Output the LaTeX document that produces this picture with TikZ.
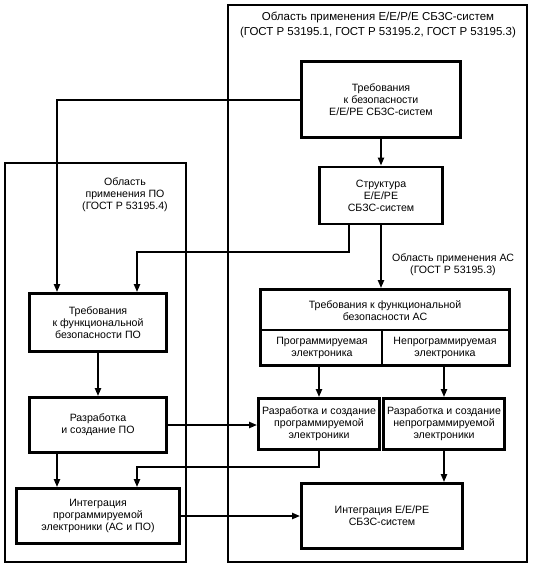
\documentclass[tikz,border=0pt]{standalone}
\usepackage{fontspec}
\setmainfont{Liberation Sans}
\usetikzlibrary{arrows.meta}
\tikzset{
  box/.style={draw, line width=2.8pt, inner sep=0pt, align=center, font=\fontsize{10.6}{12}\selectfont},
  area/.style={draw, line width=1.4pt},
  txt/.style={inner sep=0pt, align=center, font=\fontsize{10.6}{12}\selectfont},
  conn/.style={line width=2pt, -{Triangle[length=8pt,width=6pt]}},
  divider/.style={line width=2pt}
}
\begin{document}
\begin{tikzpicture}[x=1pt,y=-1pt]
\useasboundingbox (0,0) rectangle (533,566);
% areas
\draw[area] (228,5) rectangle (527,562);
\draw[area] (5,163) rectangle (186,562);
\node[txt, font=\fontsize{11.5}{15}\selectfont] (titleR) at (378,25) {Область применения Е/Е/Р/Е СБЗС-систем\\(ГОСТ Р 53195.1, ГОСТ Р 53195.2, ГОСТ Р 53195.3)};
\node[txt] (titleL) at (125,195) {Область\\применения ПО\\(ГОСТ Р 53195.4)};
% boxes
\node[box, minimum width=159pt, minimum height=76pt] (req) at (381,99.5) {Требования\\к безопасности\\Е/Е/РЕ СБЗС-систем};
\node[box, minimum width=123pt, minimum height=57pt] (struct) at (381,195.5) {Структура\\Е/Е/РЕ\\СБЗС-систем};
\node[box, minimum width=249pt, minimum height=76pt] (ac) at (385,327.5) {};
\coordinate (divL) at (261,330);
\coordinate (divR) at (509,330);
\coordinate (divT) at (382,330);
\draw[divider] (divL) -- (divR);
\draw[divider] (divT) -- (divT |- ac.south);
\node[txt] (acT) at (385,311) {Требования к функциональной\\безопасности АС};
\node[txt] (acP) at (322,348) {Программируемая\\электроника};
\node[txt] (acN) at (445,348) {Непрограммируемая\\электроника};
\node[box, minimum width=121pt, minimum height=51pt] (prog) at (319,424) {Разработка и создание\\программируемой\\электроники};
\node[box, minimum width=121pt, minimum height=51pt] (nonprog) at (444,424) {Разработка и создание\\непрограммируемой\\электроники};
\node[box, minimum width=161pt, minimum height=65pt] (integ) at (382,516) {Интеграция Е/Е/РЕ\\СБЗС-систем};
\node[box, minimum width=137pt, minimum height=58pt] (reqpo) at (98,322.5) {Требования\\к функциональной\\безопасности ПО};
\node[box, minimum width=137pt, minimum height=55pt] (dev) at (98,425) {Разработка\\и создание ПО};
\node[box, minimum width=163pt, minimum height=55pt] (integpo) at (98,516) {Интеграция\\программируемой\\электроники (АС и ПО)};
% label
\node[txt] (acLabel) at (453,265) {Область применения АС\\(ГОСТ Р 53195.3)};
% helper coordinates
\coordinate (colA) at (57,0);
\coordinate (colB) at (137,0);
\coordinate (bend1) at (349,252);
\coordinate (bend2) at (319,467);
% connectors
\draw[conn] (req.south) -- (struct.north);
\draw[conn] (req.west) -| (colA |- reqpo.north);
\draw[conn] (bend1 |- struct.south) -- (bend1) -| (colB |- reqpo.north);
\draw[conn] (struct.south) -- (struct.south |- ac.north);
\draw[conn] (prog.north |- ac.south) -- (prog.north);
\draw[conn] (nonprog.north |- ac.south) -- (nonprog.north);
\draw[conn] (nonprog.south) -- (nonprog.south |- integ.north);
\draw[conn] (reqpo.south) -- (dev.north);
\draw[conn] (dev.east) -- (dev.east -| prog.west);
\draw[conn] (colA |- dev.south) -- (colA |- integpo.north);
\draw[conn] (prog.south) -- (bend2) -| (colB |- integpo.north);
\draw[conn] (integpo.east) -- (integpo.east -| integ.west);
\end{tikzpicture}
\end{document}
